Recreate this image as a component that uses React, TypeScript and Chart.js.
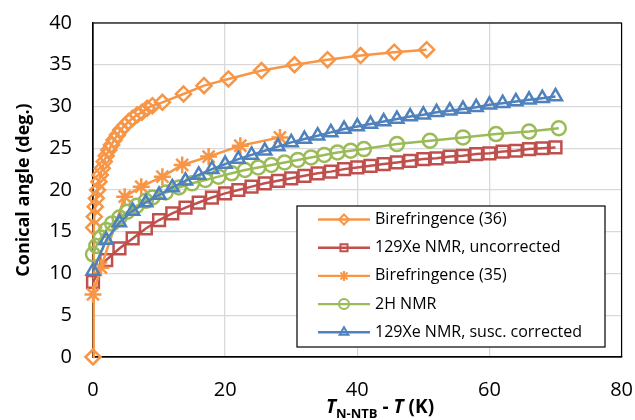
import React, { useEffect, useRef } from "react";
import { Chart, registerables } from "chart.js";

Chart.register(...registerables);

// ---- Data ----
const bire36X = [0, 0.1, 0.2, 0.35, 0.5, 0.7, 0.9, 1.1, 1.4, 1.7, 2.0, 2.4, 2.8, 3.2, 3.7, 4.2, 4.8, 5.4, 6.0, 6.7, 7.4, 8.2, 9.0, 10.5, 13.7, 16.8, 20.5, 25.5, 30.5, 35.5, 40.5, 45.6, 50.5];
const bire36Y = [0, 15.5, 16.8, 18.0, 19.0, 20.0, 21.0, 21.8, 22.6, 23.4, 24.1, 24.8, 25.4, 26.0, 26.6, 27.2, 27.7, 28.2, 28.6, 29.0, 29.3, 29.8, 30.1, 30.5, 31.5, 32.5, 33.3, 34.3, 35.0, 35.6, 36.1, 36.5, 36.8];

const xeUncorrX = [0, 2, 4, 6, 8, 10, 12, 14, 16, 18, 20, 22, 24, 26, 28, 30, 32, 34, 36, 38, 40, 42, 44, 46, 48, 50, 52, 54, 56, 58, 60, 62, 64, 66, 68, 70];
const xeUncorrY = [9.0, 11.6, 13.0, 14.2, 15.4, 16.4, 17.2, 17.9, 18.5, 19.1, 19.6, 20.0, 20.4, 20.8, 21.1, 21.4, 21.7, 22.0, 22.2, 22.5, 22.7, 22.9, 23.1, 23.3, 23.5, 23.7, 23.8, 24.0, 24.1, 24.3, 24.4, 24.6, 24.7, 24.9, 25.0, 25.1];

const bire35X = [0, 1.2, 4.8, 7.3, 10.5, 13.5, 17.5, 22.3, 28.3];
const bire35Y = [7.5, 10.7, 19.2, 20.4, 21.6, 23.0, 24.0, 25.3, 26.3];

const h2X = [0, 0.5, 1.2, 2.0, 2.9, 4.0, 5.2, 6.6, 8.0, 9, 11, 13, 15, 17, 19, 21, 23, 25, 27, 29, 31, 33, 35, 37, 39, 41, 46, 51, 56, 61, 66, 70.5];
const h2Y = [12.3, 13.3, 14.3, 15.2, 16.0, 16.7, 17.4, 18.1, 18.7, 19.1, 19.7, 20.3, 20.8, 21.2, 21.6, 22.0, 22.4, 22.7, 23.0, 23.3, 23.6, 23.9, 24.2, 24.5, 24.7, 24.9, 25.5, 25.9, 26.3, 26.7, 27.0, 27.4];

const xeCorrX = [0, 2, 4, 6, 8, 10, 12, 14, 16, 18, 20, 22, 24, 26, 28, 30, 32, 34, 36, 38, 40, 42, 44, 46, 48, 50, 52, 54, 56, 58, 60, 62, 64, 66, 68, 70];
const xeCorrY = [10.3, 14.0, 16.1, 17.5, 18.5, 19.4, 20.3, 21.1, 21.8, 22.5, 23.1, 23.7, 24.2, 24.7, 25.2, 25.7, 26.1, 26.5, 26.9, 27.3, 27.6, 27.9, 28.2, 28.5, 28.8, 29.0, 29.3, 29.5, 29.7, 29.9, 30.2, 30.4, 30.6, 30.8, 31.0, 31.2];

const seriesLabels = ["Birefringence (36)", "129Xe NMR, uncorrected", "Birefringence (35)", "2H NMR", "129Xe NMR, susc. corrected"];
const seriesColors = ["#F79646", "#C0504D", "#F79646", "#9BBB59", "#4F81BD"];
const seriesStyles = ["rectRot", "rect", "star", "circle", "triangle"];
const seriesRadius = [7.5, 8.3, 8.5, 7, 7.5];

const xTicks = [0, 20, 40, 60, 80];
const yTicks = [0, 5, 10, 15, 20, 25, 30, 35, 40];

const FONT = "'Open Sans', Lato, sans-serif";

function drawMarker(ctx: CanvasRenderingContext2D, style: string, x: number, y: number, r: number) {
  ctx.beginPath();
  if (style === "rectRot") {
    ctx.moveTo(x, y - r); ctx.lineTo(x + r, y); ctx.lineTo(x, y + r); ctx.lineTo(x - r, y); ctx.closePath();
  } else if (style === "rect") {
    const s = r * Math.SQRT1_2;
    ctx.rect(x - s, y - s, 2 * s, 2 * s);
  } else if (style === "star") {
    for (let k = 0; k < 4; k++) {
      const a = (k * Math.PI) / 4;
      ctx.moveTo(x - Math.sin(a) * r, y - Math.cos(a) * r);
      ctx.lineTo(x + Math.sin(a) * r, y + Math.cos(a) * r);
    }
  } else if (style === "circle") {
    ctx.arc(x, y, r, 0, Math.PI * 2);
  } else if (style === "triangle") {
    for (let k = 0; k < 3; k++) {
      const a = (k * 2 * Math.PI) / 3;
      const px = x + Math.sin(a) * r, py = y - Math.cos(a) * r;
      if (k === 0) ctx.moveTo(px, py); else ctx.lineTo(px, py);
    }
    ctx.closePath();
  }
  ctx.stroke();
}

const framePlugin = {
  id: "framePlugin",
  beforeDatasetsDraw(chart: any) {
    const { ctx, chartArea: a } = chart;
    ctx.save();
    ctx.strokeStyle = "#000";
    ctx.lineWidth = 1.2;
    ctx.strokeRect(a.left, a.top, a.right - a.left, a.bottom - a.top);
    ctx.restore();
  },
  afterDraw(chart: any) {
    const { ctx, chartArea: a } = chart;
    ctx.save();
    // Y title
    ctx.translate(24, (a.top + a.bottom) / 2);
    ctx.rotate(-Math.PI / 2);
    ctx.font = `bold 18px ${FONT}`;
    ctx.fillStyle = "#000";
    ctx.textAlign = "center";
    ctx.textBaseline = "middle";
    ctx.fillText("Conical angle (deg.)", 0, 0);
    ctx.restore();

    // X title with subscript
    ctx.save();
    ctx.fillStyle = "#000";
    ctx.textBaseline = "alphabetic";
    ctx.textAlign = "left";
    const parts = [
      { t: "T", f: `italic bold 19px ${FONT}`, dy: 0 },
      { t: "N-NTB", f: `bold 13px ${FONT}`, dy: 5 },
      { t: " - ", f: `bold 19px ${FONT}`, dy: 0 },
      { t: "T", f: `italic bold 19px ${FONT}`, dy: 0 },
      { t: " (K)", f: `bold 19px ${FONT}`, dy: 0 },
    ];
    let total = 0;
    const widths = parts.map((p) => { ctx.font = p.f; const w = ctx.measureText(p.t).width; total += w; return w; });
    let cx = 380 - total / 2;
    parts.forEach((p, i) => { ctx.font = p.f; ctx.fillText(p.t, cx, 413 + p.dy); cx += widths[i]; });
    ctx.restore();

    // Legend
    ctx.save();
    const lx0 = 297, ly0 = 206, lx1 = 605, ly1 = 347;
    ctx.fillStyle = "#fff";
    ctx.fillRect(lx0, ly0, lx1 - lx0, ly1 - ly0);
    ctx.strokeStyle = "#000";
    ctx.lineWidth = 1.2;
    ctx.strokeRect(lx0, ly0, lx1 - lx0, ly1 - ly0);
    chart.data.datasets.forEach((ds: any, i: number) => {
      const y = 219.5 + i * 28.2;
      ctx.strokeStyle = ds.borderColor;
      ctx.lineWidth = 2.4;
      ctx.beginPath();
      ctx.moveTo(318, y); ctx.lineTo(370, y);
      ctx.stroke();
      ctx.lineWidth = 2;
      drawMarker(ctx, ds.pointStyle, 344, y, 5);
      ctx.fillStyle = "#000";
      ctx.font = `16px ${FONT}`;
      ctx.textAlign = "left";
      ctx.textBaseline = "middle";
      ctx.fillText(ds.label, 375, y);
    });
    ctx.restore();
  },
};

export default function App() {
  const ref = useRef<HTMLCanvasElement | null>(null);
  useEffect(() => {
    if (!ref.current) return;
    const xs = [bire36X, xeUncorrX, bire35X, h2X, xeCorrX];
    const ys = [bire36Y, xeUncorrY, bire35Y, h2Y, xeCorrY];
    const datasets = seriesLabels.map((label, i) => ({
      label,
      data: xs[i].map((x, j) => ({ x, y: ys[i][j] })),
      showLine: true,
      borderColor: seriesColors[i],
      backgroundColor: "rgba(0,0,0,0)",
      borderWidth: 2.5,
      pointStyle: seriesStyles[i],
      pointRadius: seriesRadius[i],
      pointBorderWidth: 2.5,
      pointBorderColor: seriesColors[i],
      pointBackgroundColor: "rgba(0,0,0,0)",
      tension: 0,
      clip: false,
      order: 5 - i,
    }));
    const chart = new Chart(ref.current, {
      type: "scatter",
      data: { datasets } as any,
      options: {
        animation: false,
        responsive: false,
        devicePixelRatio: 1,
        layout: { padding: { top: 23, right: 12, left: 0, bottom: 0 } },
        plugins: { legend: { display: false }, tooltip: { enabled: false } },
        scales: {
          x: {
            type: "linear",
            min: 0,
            max: 80,
            afterBuildTicks: (s: any) => { s.ticks = xTicks.map((v) => ({ value: v })); },
            ticks: { color: "#000", font: { family: FONT, size: 20 }, padding: 2 },
            grid: { color: "#D9D9D9", lineWidth: 1.3, drawTicks: true, tickLength: 19, tickColor: "rgba(0,0,0,0)" },
            border: { display: true, color: "#000", width: 1.2 },
            afterFit: (s: any) => { s.height = 63; },
          },
          y: {
            type: "linear",
            min: 0,
            max: 40,
            afterBuildTicks: (s: any) => { s.ticks = yTicks.map((v) => ({ value: v })); },
            ticks: { color: "#000", font: { family: FONT, size: 20 }, padding: 2 },
            grid: { color: "#D9D9D9", lineWidth: 1.3, drawTicks: true, tickLength: 19, tickColor: "rgba(0,0,0,0)" },
            border: { display: true, color: "#000", width: 1.2 },
            afterFit: (s: any) => { s.width = 93; },
          },
        },
      } as any,
      plugins: [framePlugin],
    });
    return () => chart.destroy();
  }, []);
  return (
    <div style={{ position: "fixed", left: 0, top: 0, width: 635, height: 420, background: "#fff" }}>
      <canvas ref={ref} width={635} height={420} style={{ display: "block" }} />
    </div>
  );
}
